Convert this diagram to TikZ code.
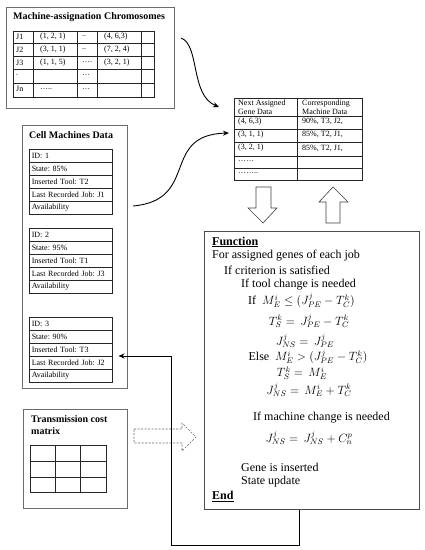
\documentclass[tikz,border=0pt]{standalone}
\usepackage{fontspec}
\setmainfont{Liberation Serif}
\usetikzlibrary{arrows.meta}
\frenchspacing
\begin{document}
\frenchspacing
\begin{tikzpicture}[x=1pt,y=-1pt,
  outer/.style={draw=gray!85!black, line width=0.8pt, anchor=north west, inner sep=0pt},
  fbox/.style={draw=black!70, line width=0.8pt, anchor=north west, inner sep=0pt},
  gridl/.style={draw=black!85, line width=0.5pt},
  small/.style={font=\fontsize{8}{9}\selectfont, inner sep=0pt, anchor=west, align=left},
  ttl/.style={font=\fontsize{10}{12}\selectfont\bfseries, inner sep=0pt, anchor=west, align=left},
  ftxt/.style={font=\fontsize{12}{14}\selectfont, inner sep=0pt, anchor=west},
  fmath/.style={font=\fontsize{11.5}{13}\selectfont, inner sep=0pt},
  cellrow/.style={draw=black!85, line width=0.5pt, anchor=north west, minimum width=83pt, minimum height=13pt, text width=78pt, inner xsep=2.5pt, inner ysep=0pt, align=left, font=\fontsize{8}{9}\selectfont},
  conn/.style={line width=0.9pt, -{Stealth[length=6pt,width=5pt]}},
  blockarrow/.style={draw=black!75, line width=0.6pt, fill=white}
]
\useasboundingbox (0,0) rectangle (425,550);

% ---------- Machine-assignation Chromosomes ----------
\node[outer, minimum width=168pt, minimum height=101pt] (mbox) at (6,7) {};
\node[ttl] (mtitle) at (13,17) {Machine-assignation Chromosomes};
\draw[gridl] (13,31) rectangle (154,97);
\foreach \yy in {43.2,56.4,69.6,82.8} \draw[gridl] (13,\yy) -- (154,\yy);
\foreach \xx in {33,77,97,141} \draw[gridl] (\xx,31) -- (\xx,97);
\foreach \r/\y/\a/\b/\c/\d in {1/36.5/J1/{(1, 2, 1)}/{..}/{(4, 6,3)},
  2/49.5/J2/{(3, 1, 1)}/{..}/{(7, 2, 4)},
  3/62.5/J3/{(1, 1, 5)}/{….}/{(3, 2, 1)},
  4/75.5/{.}/{}/{…}/{},
  5/89/Jn/{…..}/{…}/{}}
{
  \node[small] (m\r-a) at (16,\y) {\a};
  \node[small] (m\r-b) at (40,\y) {\b};
  \node[small] (m\r-c) at (82,\y) {\c};
  \node[small] (m\r-d) at (104,\y) {\d};
}

% ---------- Next Assigned table ----------
\draw[gridl] (234,98) rectangle (362,180);
\draw[gridl] (297,98) -- (297,180);
\foreach \yy in {116,129,142,156,168} \draw[gridl] (234,\yy) -- (362,\yy);
\node[small] (nh1) at (238,107.5) {Next Assigned\\Gene Data};
\node[small] (nh2) at (302,107.5) {Corresponding\\Machine Data};
\foreach \r/\y/\a/\b in {1/121.5/{(4, 6,3)}/{90\%, T3, J2,},
  2/134.5/{(3, 1, 1)}/{85\%, T2, J1,},
  3/148/{(3, 2, 1)}/{85\%, T2, J1,},
  4/161.5/{……}/{},
  5/173.5/{……..}/{}}
{
  \node[small] (n\r-a) at (238,\y) {\a};
  \node[small] (n\r-b) at (302,\y) {\b};
}

% ---------- Cell Machines Data ----------
\node[outer, minimum width=105pt, minimum height=263pt] (cbox) at (22,125) {};
\node[ttl] (ctitle) at (29,135) {Cell Machines Data};
\foreach \b/\t/\st/\tool/\job in {1/149/85/T2/J1, 2/228/95/T1/J3, 3/317/90/T3/J2}
{
  \node[cellrow] (b\b r1) at (29,\t) {ID: \b};
  \node[cellrow] (b\b r2) at (29,\t+13) {State: \st\%};
  \node[cellrow] (b\b r3) at (29,\t+26) {Inserted Tool: \tool};
  \node[cellrow] (b\b r4) at (29,\t+39) {Last Recorded Job: \job};
  \node[cellrow] (b\b r5) at (29,\t+52) {Availability};
}

% ---------- Transmission cost matrix ----------
\node[outer, minimum width=104pt, minimum height=99pt] (tbox) at (23,409) {};
\node[ttl] (ttitle) at (31,425) {Transmission cost\\matrix};
\draw[gridl] (30,445) rectangle (106,492);
\draw[gridl] (55,445) -- (55,492) (80,445) -- (80,492);
\draw[gridl] (30,461.5) -- (106,461.5) (30,477) -- (106,477);

% ---------- Function box ----------
\node[fbox, minimum width=215pt, minimum height=278pt] (func) at (204,231) {};
\node[ftxt] (f1) at (212,242) {\textbf{\underline{Function}}};
\node[ftxt] (f2) at (212,256) {For assigned genes of each job};
\node[ftxt] (f3) at (224,270.5) {If criterion is satisfied};
\node[ftxt] (f4) at (241,285) {If tool change is needed};
\node[ftxt] (f5) at (248,300.5) {If\ \ {\fontsize{11.5}{13}\selectfont$M_E^i \le (J_{PE}^j - T_C^k)$}};
\node[fmath] (f6) at (309,321) {$T_S^k =\, J_{PE}^j - T_C^k$};
\node[fmath] (f7) at (305,341) {$J_{NS}^j =\, J_{PE}^j$};
\node[fmath] (f8) at (308,357) {{\fontsize{12}{14}\selectfont Else}\ \ $M_E^i > (J_{PE}^j - T_C^k)$};
\node[fmath] (f9) at (302,373) {$T_S^k =\, M_E^i$};
\node[fmath] (f10) at (309,390) {$J_{NS}^j =\, M_E^i + T_C^k$};
\node[ftxt] (f11) at (253,418) {If machine change is needed};
\node[fmath] (f12) at (309,438) {$J_{NS}^j =\, J_{NS}^j + C_n^p$};
\node[ftxt] (f13) at (241,467) {Gene is inserted};
\node[ftxt] (f14) at (241,482) {State update};
\node[ftxt] (f15) at (212,496.5) {\textbf{\underline{End}}};

% ---------- Block arrows ----------
\draw[blockarrow] (256,187) -- (271,187) -- (271,208) -- (277,208) -- (263,223) -- (248,208) -- (256,208) -- cycle;
\draw[blockarrow] (333,187) -- (348,202) -- (340,202) -- (340,223) -- (326,223) -- (326,202) -- (319,202) -- cycle;
\draw[draw=black!60, line width=0.6pt, dash pattern=on 2pt off 1.5pt] (134,429) -- (182,429) -- (182,423) -- (196,437) -- (182,451) -- (182,443) -- (134,443) -- cycle;

% ---------- Connectors ----------
\coordinate (c1a) at (181,38);
\coordinate (c1b) at (219,107);
\draw[conn] (c1a) .. controls (200,45) and (190,95) .. (c1b);
\coordinate (c2a) at (133,206);
\coordinate (c2b) at (229,133);
\draw[conn] (c2a) .. controls (200,200) and (160,135) .. (c2b);
\path (func.south west) ++(95,0) coordinate (fout);
\coordinate (bend) at (171,545);
\draw[conn, shorten >=6pt] (fout) |- (bend) |- (b3r4.north east);
\end{tikzpicture}
\end{document}
